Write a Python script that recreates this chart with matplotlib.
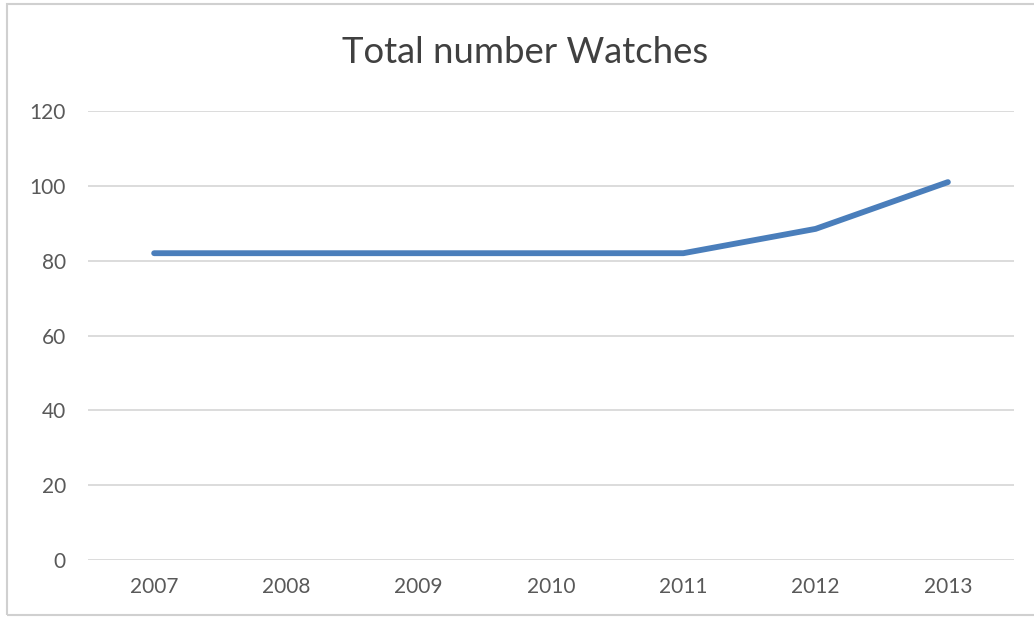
import matplotlib.pyplot as plt
from matplotlib.patches import Rectangle

# data
years = ['2007', '2008', '2009', '2010', '2011', '2012', '2013']
watches = [82, 82, 82, 82, 82, 88.5, 101]
y_ticks = [0, 20, 40, 60, 80, 100, 120]

plt.rcParams['font.family'] = ['Lato', 'DejaVu Sans']

fig = plt.figure(figsize=(10.34, 6.23), dpi=100)
ax = fig.add_axes([0.0851, 0.1011, 0.8956, 0.7207])

x = list(range(len(years)))
ax.plot(x, watches, color='#4a7ebb', linewidth=4.2, solid_capstyle='round', zorder=3)

ax.set_xlim(-0.5, len(years) - 0.5)
ax.set_ylim(0, 120)
ax.set_yticks(y_ticks)
ax.set_xticks(x)
ax.set_xticklabels(years)

ax.grid(axis='y', color='#d9d9d9', linewidth=1.3)
ax.set_axisbelow(True)
for s in ax.spines.values():
    s.set_visible(False)
ax.tick_params(length=0, colors='#595959', labelsize=15)
ax.tick_params(axis='y', pad=16)
ax.tick_params(axis='x', pad=12)

fig.text(0.508, 0.916, 'Total number Watches', ha='center', va='center',
         fontsize=26.3, color='#404040')

# outer chart border
fig.patches.append(Rectangle((7 / 1034, 8 / 623), 1.2, 611 / 623, transform=fig.transFigure,
                             fill=False, edgecolor='#d0d0d0', linewidth=1.5))

fig.savefig('out.png', dpi=100)
